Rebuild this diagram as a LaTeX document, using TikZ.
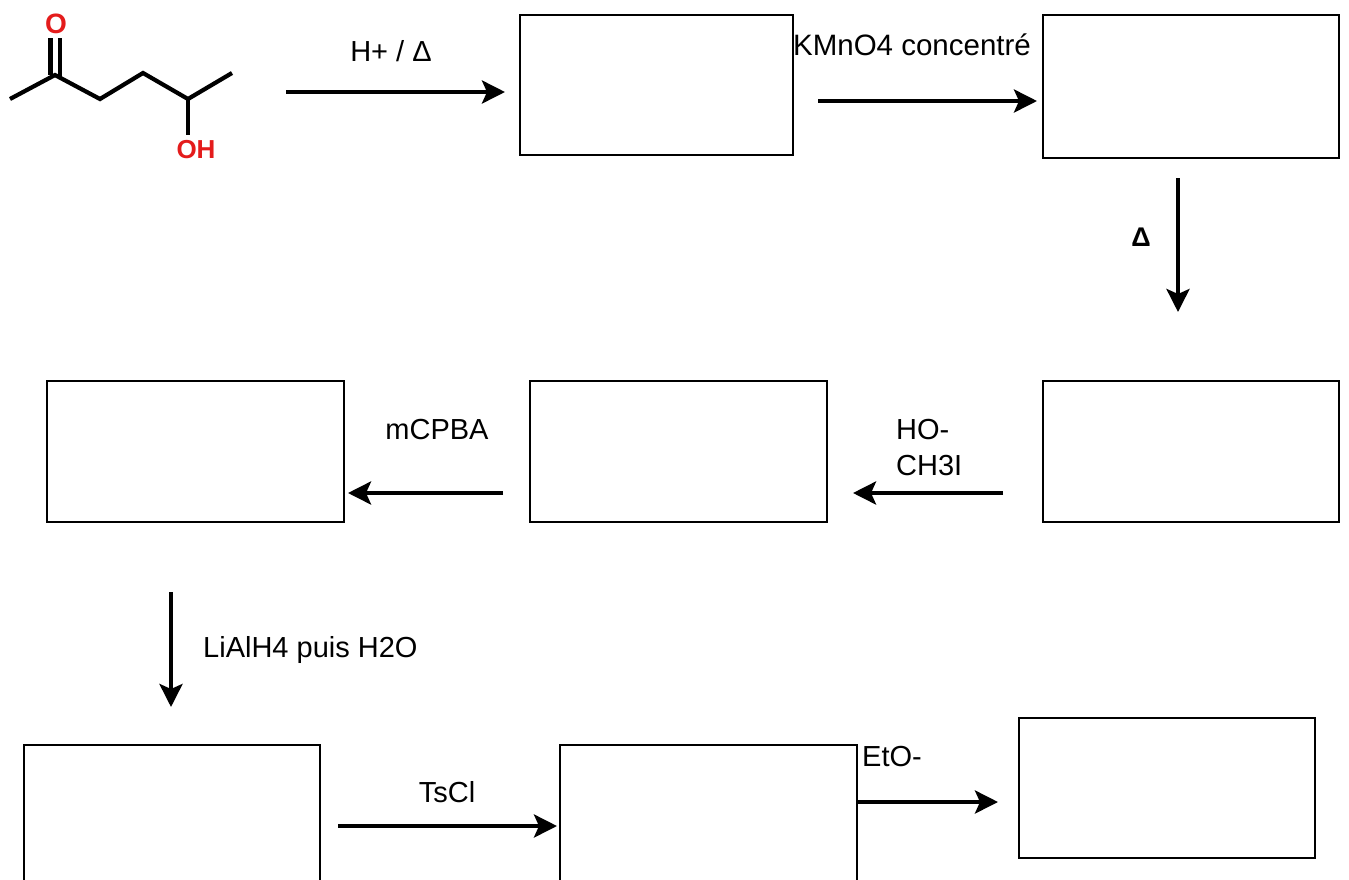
\documentclass[tikz,border=0pt]{standalone}
\usepackage{fontspec}
\setmainfont{Liberation Sans}
\usetikzlibrary{arrows.meta}
\definecolor{molred}{RGB}{228,28,28}
\begin{document}
\begin{tikzpicture}[x=1pt,y=-1pt,
  box/.style={draw=black,line width=2pt,fill=white},
  rxn/.style={line width=4pt,-{Stealth[length=23pt,width=23pt,inset=5pt]}},
  lbl/.style={font=\fontsize{29}{33}\selectfont,inner sep=0pt},
  bond/.style={line width=4.2pt,line cap=butt,line join=miter},
  atom/.style={text=molred,font=\bfseries\fontsize{26}{28}\selectfont,inner sep=0pt}]
\useasboundingbox (0,0) rectangle (1349,879);
\clip (0,0) rectangle (1349,879);
\fill[white] (0,0) rectangle (1349,879);
% molecule
\coordinate (c1) at (10,99);
\coordinate (c2) at (55,75);
\coordinate (c3) at (100,99);
\coordinate (c4) at (143,73);
\coordinate (c5) at (188,99);
\coordinate (c6) at (232,73);
\coordinate (oh) at (188,135);
\draw[bond] (c1) -- (c2) -- (c3) -- (c4) -- (c5) -- (c6);
\draw[bond] (c5) -- (oh);
\draw[bond] (50.5,75) -- (50.5,38);
\draw[bond] (60,77) -- (60,38);
\node[atom,font=\bfseries\fontsize{28}{30}\selectfont] (O) at (56,24) {O};
\node[atom] (OH) at (196,150) {OH};
% boxes
\node[box,minimum width=273pt,minimum height=140pt,inner sep=0pt] (b1) at (656.5,85) {};
\node[box,minimum width=296pt,minimum height=143pt,inner sep=0pt] (b2) at (1191,86.5) {};
\node[box,minimum width=296pt,minimum height=141pt,inner sep=0pt] (b3) at (1191,451.5) {};
\node[box,minimum width=297pt,minimum height=141pt,inner sep=0pt] (b4) at (678.5,451.5) {};
\node[box,minimum width=297pt,minimum height=141pt,inner sep=0pt] (b5) at (195.5,451.5) {};
\node[box,minimum width=296pt,minimum height=160pt,inner sep=0pt] (b6) at (172,825) {};
\node[box,minimum width=297pt,minimum height=160pt,inner sep=0pt] (b7) at (708.5,825) {};
\node[box,minimum width=296pt,minimum height=140pt,inner sep=0pt] (b8) at (1167,788) {};
% arrow end points
\coordinate (a1s) at (286,92);  \coordinate (a1e) at (505,92);
\coordinate (a2s) at (818,101); \coordinate (a2e) at (1037,101);
\coordinate (a3s) at (1178,178); \coordinate (a3e) at (1178,312);
\coordinate (a4s) at (1003,493); \coordinate (a4e) at (853,493);
\coordinate (a5s) at (503,493); \coordinate (a5e) at (348,493);
\coordinate (a6s) at (171,592); \coordinate (a6e) at (171,707);
\coordinate (a7s) at (338,826); \coordinate (a7e) at (557,826);
\coordinate (a8s) at (858,802); \coordinate (a8e) at (998,802);
\draw[rxn] (a1s) -- (a1e);
\draw[rxn] (a2s) -- (a2e);
\draw[rxn] (a3s) -- (a3e);
\draw[rxn] (a4s) -- (a4e);
\draw[rxn] (a5s) -- (a5e);
\draw[rxn] (a6s) -- (a6e);
\draw[rxn] (a7s) -- (a7e);
\draw[rxn] (a8s) -- (a8e);
% labels
\node[lbl] (l1) at (391,51) {H+ / Δ};
\node[lbl,font=\fontsize{29.5}{33}\selectfont] (l2) at (912,45) {KMnO4 concentré};
\node[lbl,font=\bfseries\fontsize{27}{30}\selectfont] (l3) at (1141,237) {Δ};
\node[lbl,anchor=west,align=left,font=\fontsize{29}{36}\selectfont] (l4) at (896,448) {HO-\\CH3I};
\node[lbl] (l5) at (437,430) {mCPBA};
\node[lbl,anchor=west] (l6) at (203,650) {LiAlH4 puis H2O};
\node[lbl] (l7) at (447,792) {TsCl};
\node[lbl,anchor=west] (l8) at (862,757) {EtO-};
\end{tikzpicture}
\end{document}
